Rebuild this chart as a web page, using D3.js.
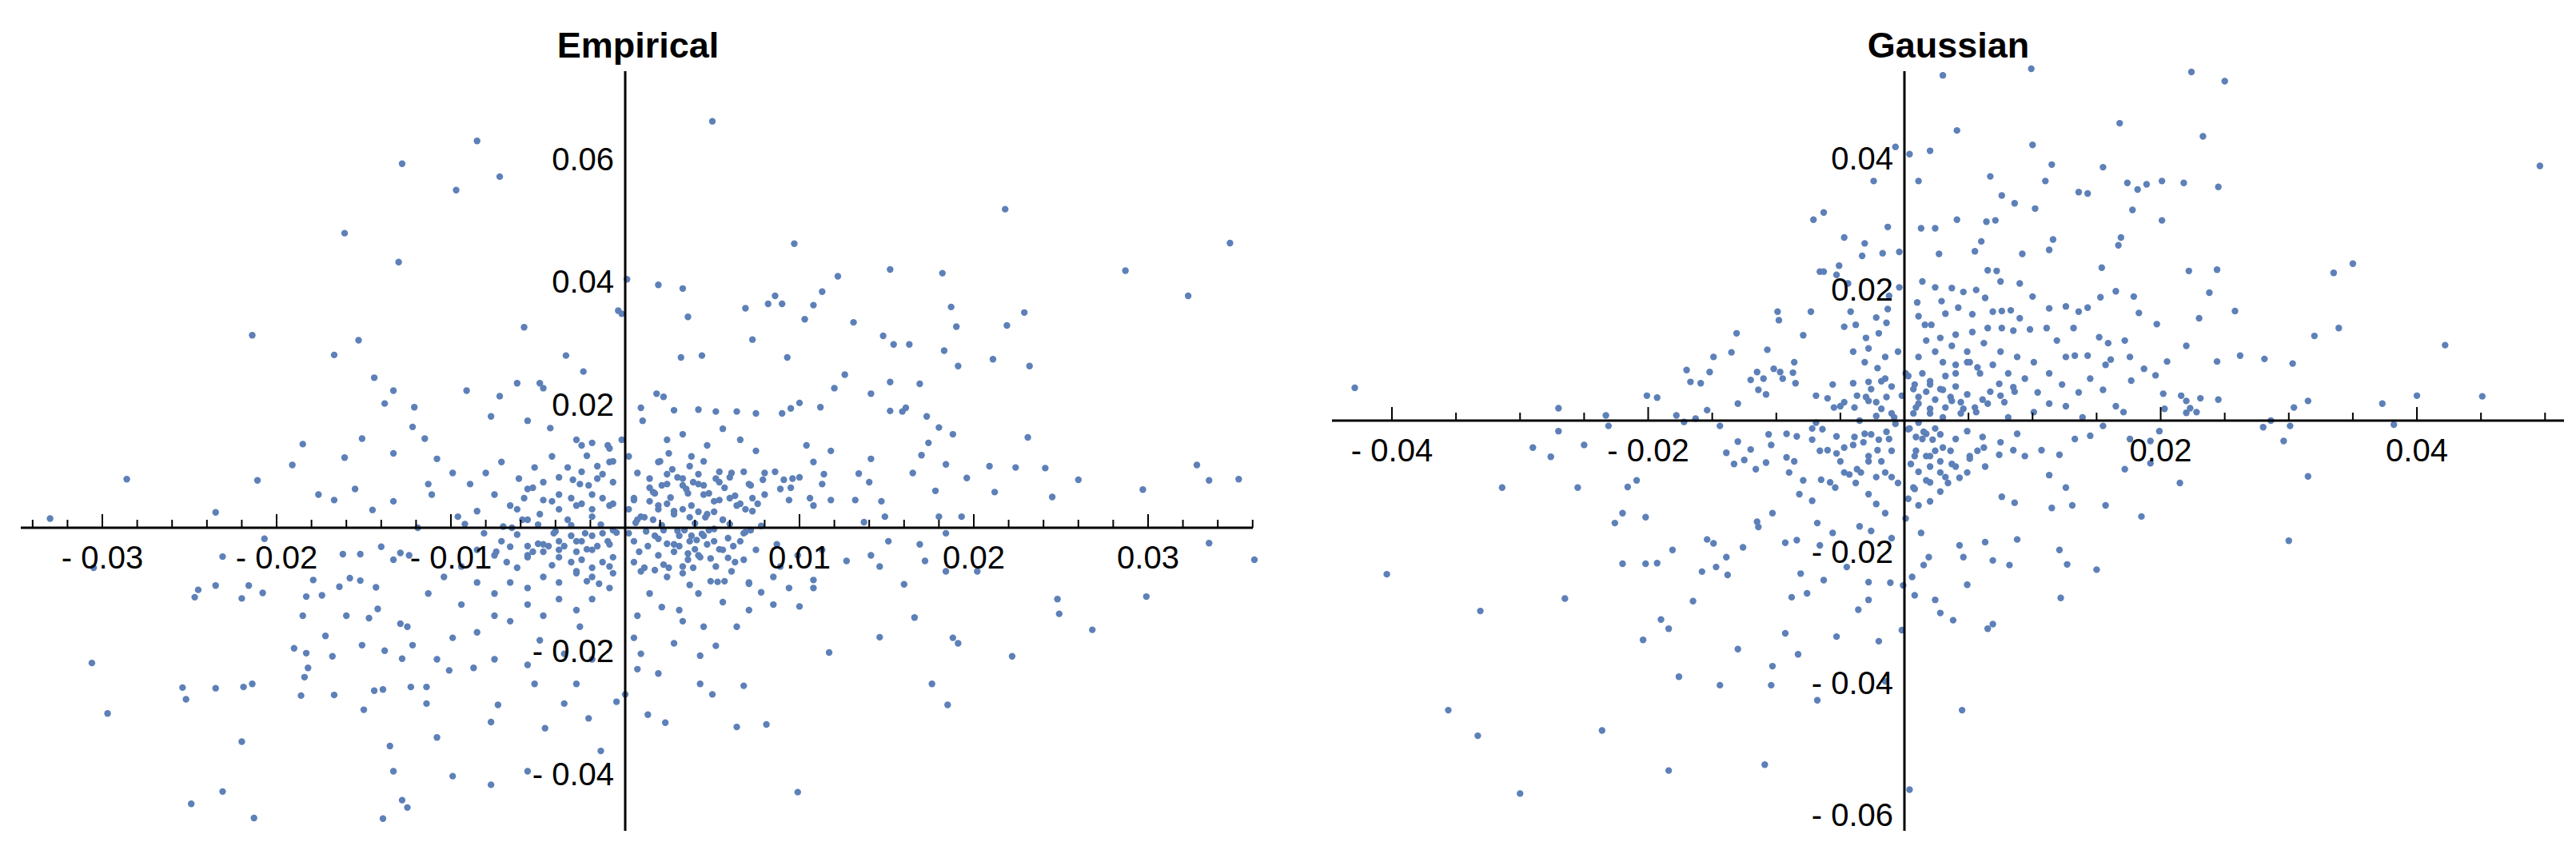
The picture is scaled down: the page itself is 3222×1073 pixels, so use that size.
<!DOCTYPE html>
<html>
<head>
<meta charset="utf-8">
<script src="https://cdn.jsdelivr.net/npm/d3@7"></script>
<style>
  html, body { margin: 0; padding: 0; background: #fff; }
  text { font-family: "Liberation Sans", Arial, sans-serif; }
</style>
</head>
<body>
<svg id="chart" width="3222" height="1073"></svg>
<script>
// values in units of 0.001
const unit = 0.001;

const empiricalPoints = [
[5.0,66.1],[-8.5,62.9],[-12.8,59.2],[-7.2,57.1],[-9.7,54.9],[-16.1,47.9],[-13.0,43.2],[9.7,46.2],[21.8,51.8],[34.7,46.3],
[28.7,41.8],[32.3,37.7],[15.2,42.0],[18.2,41.4],[12.2,40.9],[0.1,40.4],[1.9,39.5],[3.3,38.9],[8.6,37.7],[8.2,36.4],
[9.0,36.4],[6.9,35.7],[10.8,36.2],[11.3,38.4],[10.3,33.9],[18.7,35.9],[22.9,35.0],[-0.4,35.3],[-0.2,34.8],[3.6,34.3],
[13.1,33.4],[19.0,32.7],[21.9,32.9],[-5.8,32.6],[-21.4,31.3],[-15.3,30.5],[-16.7,28.1],[7.3,30.6],[14.8,31.2],[15.4,29.8],
[16.3,29.8],[18.3,28.8],[21.1,27.4],[23.2,26.3],[19.1,26.3],[-3.4,28.0],[-2.4,25.4],[9.3,27.7],[4.4,28.0],[3.2,27.7],
[-14.4,24.4],[-13.3,22.3],[-13.8,20.2],[-12.1,19.6],[-9.1,22.3],[-28.6,7.9],[-21.1,7.7],[-18.5,13.6],[-19.1,10.2],[-23.5,2.5],
[-33.0,1.5],[35.2,7.9],[32.8,10.2],[33.5,7.7],[29.7,6.2],[26.0,7.8],[24.5,5.0],[23.1,14.7],[24.1,9.7],[36.1,-5.2],
[33.5,-2.5],[29.9,-11.2],[24.8,-11.6],[24.9,-14.0],[26.8,-16.6],[22.2,-20.9],[19.1,-18.8],[18.8,-17.9],[17.6,-25.4],[18.5,-28.8],
[14.6,-17.8],[16.6,-14.6],[16.0,-9.2],[11.7,-20.3],[9.9,-43.0],[8.1,-32.0],[6.4,-32.4],[6.8,-25.7],[5.0,-27.1],[4.3,-25.4],
[2.3,-31.7],[1.3,-30.4],[-1.4,-36.3],[-2.1,-31.0],[-0.5,-28.3],[0,-27.1],[-3.5,-28.6],[-4.6,-32.6],[-5.6,-39.6],[-7.7,-41.8],
[-9.9,-40.4],[-10.8,-34.1],[-7.3,-28.8],[-7.7,-31.6],[-13.9,-47.3],[-12.5,-45.5],[-12.8,-44.3],[-13.3,-39.6],[-13.5,-35.5],[-15.0,-29.6],
[-21.3,-47.2],[-23.1,-42.9],[-24.9,-44.9],[-22.0,-34.8],[-29.7,-30.2],[-30.6,-22.0],[-25.4,-26.0],[-25.2,-27.9],[-23.5,-26.1],[-21.9,-25.9],
[-21.4,-25.4],[-18.6,-27.3],[-16.7,-27.2],[-19.0,-19.6],[-18.3,-20.4],[-18.2,-22.8],[-18.4,-24.3],[-16.8,-20.9],[-17.2,-17.6],[-15.1,-19.1],
[-13.8,-20.0],[-14.4,-26.5],[-13.9,-26.3],[-12.3,-25.9],[-11.4,-25.9],[-11.4,-28.6],[-12.8,-21.3],[-12.2,-19.1],[-12.9,-15.6],[-12.5,-16.1],
[-14.7,-14.7],[-16.0,-14.3],[-18.5,-14.3],[-18.3,-11.2],[-17.4,-11.0],[-16.4,-9.6],[-15.8,-8.2],[-15.2,-8.6],[-14.3,-9.7],[-14.2,-13.2],
[-20.8,-10.6],[-21.6,-9.4],[-22.0,-11.5],[-23.5,-9.4],[-24.5,-10.1],[-24.7,-11.3],[-17.9,-8.5],[-20.7,-1.8],[-23.1,-4.7],[-30.5,-6.5],
[-15.2,-4.3],[-16.2,-4.3],[-14.0,-3.1],[-13.3,-5.2],[-12.9,-4.1],[-12.4,-4.5],[-11.9,0],
[-7.7,18.1],[-7.2,21.4],[-6.2,23.5],[-4.9,23.5],[-4.7,22.7],[-5.6,17.4],[-4.3,16.2],[-2.8,14.3],[-1.9,13.8],[-0.9,12.9],
[0.9,19.5],[1.0,17.4],[1.8,21.8],[2.2,21.3],[2.8,19.1],[4.2,19.2],[5.2,18.9],[6.4,18.9],[7.5,18.6],[9.0,18.6],
[10.0,20.3],[9.5,19.4],[11.2,19.6],[12.0,22.7],[12.6,24.9],[14.1,21.8],[15.2,23.7],[15.2,19.0],[15.9,18.9],[16.9,23.4],
[16.1,19.5],[17.3,18.1],[18.0,16.3],[17.4,13.8],[18.8,15.2],[17.0,11.8],[18.4,10.3],[16.5,8.9],[17.8,6.0],[19.6,8.1],
[20.9,10.0],[21.2,5.8],[22.4,9.8],[19.3,1.8],[18.0,1.8],
[14.1,11.2],[13.4,8.8],[14.0,7.4],[13.2,4.5],[14.7,4.3],[14.9,1.8],[13.7,0.9],[11.3,7.1],[10.8,10.7],[11.8,12.5],
[10.4,13.4],[9.6,8.0],[8.9,6.3],[8.0,8.9],[7.5,12.5],[6.6,14.3],[5.6,16.1],[4.7,13.4],[3.8,11.6],[3.3,15.2],
[2.4,14.3],[1.9,10.7],[1.4,8.0],[2.4,7.1],[3.3,8.0],[4.2,7.1],[5.2,8.0],[6.1,8.9],[7.1,7.1],[8.0,5.4],
[9.4,4.5],[10.8,3.6],[11.8,4.5],[1.6,5.8],[2.6,4.9],[3.5,6.3],[4.5,5.4],[5.4,4.5],[6.4,3.6],[7.3,2.7],
[1.9,3.6],[2.8,2.7],[3.8,3.6],[4.7,2.2],[5.6,1.3],[0.9,1.8],[0.5,4.5],[0.7,8.9],[0.2,11.6],[-0.2,14.3],
[-0.9,10.7],[-1.6,8.0],[-2.6,7.1],[-3.3,9.8],[-4.2,11.6],[-5.2,9.8],[-6.1,8.0],[-7.1,10.7],[-8.0,8.9],[-8.9,7.1],
[-9.9,8.9],[-10.8,11.2],[-11.3,7.1],[-11.1,5.4],[-7.5,5.4],[-6.6,3.6],[-5.6,6.3],[-4.7,4.5],[-3.8,5.4],[-2.8,3.6],
[-1.9,5.4],[-0.9,3.6],[-4.9,2.2],[-5.9,1.3],[-3.3,1.3],[-1.9,1.8],[-8.5,2.7],[-9.6,1.8],[-13.3,4.3],[-14.5,2.9],
[-15.5,6.3],[-16.7,4.5],[-17.6,5.4],[-16.1,11.4],[-15.1,14.5],[-13.3,12.1],[-12.2,16.4],[-11.5,14.5],
[1.9,-1.8],[2.8,-2.7],[3.8,-1.3],[4.7,-2.7],[5.6,-3.6],[6.6,-2.2],[7.5,-3.6],[8.7,-2.7],[9.9,-4.5],[11.3,-3.6],
[12.7,-5.4],[14.1,-4.5],[15.1,-2.2],[16.9,-2.7],[18.4,-0.9],[20.2,-7.1],[18.4,-7.1],[17.2,-5.4],[1.9,-4.5],[0.9,-7.1],
[2.4,-8.0],[3.3,-6.3],[4.2,-4.5],[5.2,-6.3],[6.1,-7.1],[7.1,-8.9],[8.5,-8.0],[9.4,-9.8],[10.8,-8.5],[10.8,-9.8],
[10.0,-12.8],[8.5,-12.5],[7.1,-13.4],[5.6,-12.1],[4.2,-10.7],[3.1,-13.4],[2.1,-12.9],[1.4,-10.7],[0.7,-14.3],[2.8,-18.8],
[4.5,-16.1],[5.2,-19.2],[6.4,-16.1],[4.3,-20.8],[0.9,-20.5],[0.5,-17.9],[1.9,-23.7],[0.7,-23.0],[3.3,-15.2],[8.9,-6.3],[14.6,-6.3],
[-0.9,-2.7],[-1.9,-3.6],[-2.8,-2.2],[-3.8,-3.6],[-4.7,-2.7],[-5.6,-4.5],[-6.6,-3.1],[-7.5,-4.5],[-8.5,-3.6],[-9.4,-6.3],
[-10.4,-8.0],[-11.3,-10.7],[-0.9,-6.3],[-1.9,-8.0],[-2.8,-7.1],[-3.8,-8.9],[-4.7,-8.0],[-5.6,-9.8],[-6.6,-8.9],[-7.5,-10.7],
[-8.5,-8.9],[-9.4,-12.5],[-0.9,-9.8],[-1.9,-11.6],[-2.8,-13.4],[-3.8,-11.6],[-4.7,-14.3],[-5.6,-12.5],[-6.6,-15.2],[-7.5,-14.3],
[-8.5,-17.0],[-9.9,-17.9],[-10.8,-21.4],[-10.1,-23.2],[-8.7,-22.8],[-7.5,-21.4],[-5.6,-22.3],[-4.9,-18.3],[-3.5,-20.5],[-2.6,-16.1],
[-1.9,-21.4],[-5.2,-25.4],[-2.8,-25.4],
[0.6,0.8],[1.2,-0.6],[2.1,0.4],[3.0,-0.5],[4.0,0.7],[4.4,-1.0],[5.1,-0.2],[6.0,0.6],[6.9,-0.7],[7.8,0.3],
[-0.5,-0.8],[-1.4,0.5],[-2.3,-0.9],[-3.1,0.4],[-4.0,-0.6],[-5.0,0.5],[-6.2,-1.1],[-7.0,0.2],[-8.1,-0.9],[-9.2,0.6],
[3.6,-4.2],[4.9,-5.0],[5.9,-4.9],[3.1,-3.0],[4.1,-2.0],[2.2,-6.0],[6.8,-5.2],[5.3,-8.8],[7.8,-10.5],[3.7,-9.3],
[1.4,6.5],[1.7,5.6],[2.1,6.9],[2.4,8.7],[2.7,9.5],[3.0,8.2],[3.3,6.9],[3.6,5.6],[3.9,7.4],[4.2,8.7],
[4.5,6.9],[4.8,5.6],[5.1,4.3],[5.4,7.4],[5.7,6.5],[6.0,4.8],[6.3,5.2],[6.6,3.9],[6.9,3.0],[7.3,4.8],
[7.6,3.9],[1.4,4.3],[1.9,3.0],[2.4,3.9],[2.8,2.2],[3.3,3.0],[3.7,1.7],[4.2,2.6],[4.6,1.7],[5.1,2.6],
[5.6,1.3],[0.2,3.0],[0.5,4.8],[0.7,1.3],[1.1,1.7],[1.6,1.3],[2.0,10.8],[2.5,12.1],[3.7,10.0],[4.5,10.8],
[5.4,9.1],[6.0,8.2],[6.8,9.1],[7.2,6.9],[7.9,7.8],[8.6,9.1],[9.1,7.8],[9.5,6.5],[10.0,8.2],[10.6,4.8],[11.4,8.7],
[0.2,-0.9],[0.5,-2.2],[0.8,-3.9],[1.3,-3.0],[1.7,-1.3],[2.2,-0.4],[2.4,-2.6],[2.8,-3.9],[3.1,-1.3],[3.4,-0.4],
[3.7,-2.2],[4.0,-3.5],[4.3,-4.8],[4.5,-1.3],[4.8,-0.4],[5.1,-2.2],[5.4,-3.5],[3.6,-5.2],[3.9,-6.5],[3.3,-7.4],
[2.5,-6.5],[1.7,-6.9],[1.1,-6.5],[0.5,-5.6],[5.9,-1.7],[6.2,-3.0],[6.8,-0.9],[7.2,-0.4],[6.3,-5.6],[4.9,-8.7],
[5.7,-8.7],[7.1,-9.1],
[-0.7,-0.4],[-1.0,-2.2],[-1.3,-0.9],[-1.6,-3.0],[-1.9,-1.3],[-2.2,-3.5],[-2.5,-2.2],[-2.8,-3.9],[-3.1,-1.3],[-3.5,-3.0],
[-3.8,-2.2],[-4.1,-0.9],[-4.4,-3.0],[-4.7,-3.9],[-5.0,-2.6],[-5.3,-3.9],[-5.6,-3.0],[-0.7,-4.8],[-1.3,-5.6],[-1.9,-6.5],
[-2.5,-5.2],[-3.1,-5.6],[-3.8,-4.8],[-4.2,-6.1],[-0.7,-7.4],[-1.5,-9.1],[-2.2,-8.7],[-2.8,-7.4],[-0.7,3.9],[-1.3,4.8],
[-1.9,3.0],[-2.5,3.9],[-3.1,4.8],[-3.8,3.0],[-4.2,4.3],[-0.7,7.4],[-1.3,8.7],[-2.1,6.9],[-2.5,9.1],[-3.0,7.8],
[-3.8,8.2],[-0.7,10.8],[-1.6,10.0],[-2.2,11.7],[-2.5,13.4],[-1.0,13.4],[-4.7,7.4],[-5.3,6.5],[-5.8,4.8],[-6.2,3.0],
[-5.6,1.3],[-6.5,0],[-7.1,-2.2],[-7.4,-3.9],[-6.8,-5.6],[-6.2,-6.5],[-5.6,-4.8]
];

const gaussianPoints = [
[3.0,52.6],[9.9,53.6],[22.4,53.1],[25.0,51.7],[16.8,45.3],[4.1,44.2],[23.3,43.3],[10.0,42.0],[2.0,41.1],[-0.7,41.7],
[0.4,40.6],[49.6,38.8],[11.5,39.0],[15.5,38.6],[17.4,36.2],[20.1,36.5],[21.8,36.2],[24.5,35.6],[18.2,35.2],[18.9,36.0],
[-2.4,36.5],[1.1,36.5],[6.7,37.2],[11.0,36.5],[13.6,34.8],[14.3,34.6],[7.6,34.3],[8.6,33.1],[10.2,32.3],[17.8,32.1],
[20.1,30.5],[-7.1,30.6],[-6.3,31.7],[4.1,30.6],[1.3,29.3],[2.4,29.3],[-1.3,29.5],[6.4,30.3],[7.1,30.5],[-4.7,27.9],
[-3.1,27.0],[6.0,27.3],[11.6,27.6],[16.9,27.9],[16.7,26.7],[11.3,26.0],[9.2,25.4],[-1.7,25.5],[-0.4,25.7],[-3.3,25.1],
[2.7,25.4],[5.5,25.8],[15.4,23.3],[35.0,23.9],[33.5,22.5],[24.4,23.0],[22.2,22.8],[23.8,19.5],[-6.3,22.7],[-5.1,23.6],
[25.8,16.7],[23.0,15.6],[32.0,12.9],[33.9,14.1],[42.2,11.5],[26.2,9.9],[28.1,9.4],[30.3,8.7],[22.0,11.4],[40.0,3.8],
[45.1,3.7],[37.3,2.6],[31.5,3.0],[30.4,2.0],[38.2,-0.6],[28.6,0],[30.1,-0.8],[29.6,-3.1],[28.0,-1.0],[31.5,-8.5],
[30.0,-18.3],[21.5,-9.5],[18.5,-14.6],[15.0,-22.7],[12.2,-27.0],[12.7,-21.9],[12.1,-19.7],[8.8,-18.1],[8.2,-22.0],[6.9,-21.3],
[6.9,-31.0],[6.5,-31.7],[4.5,-44.1],[4.9,-25.0],[3.8,-30.4],[2.8,-29.3],[2.4,-27.3],[0.4,-56.2],[-0.2,-31.9],[-1.5,-39.7],
[-2.0,-33.6],[-3.6,-28.8],[-2.8,-27.3],[-6.8,-42.6],[-5.3,-32.9],[-8.3,-35.6],[-10.4,-40.3],[-10.3,-37.4],[-9.3,-32.4],[-10.9,-52.4],
[-13.0,-34.8],[-14.4,-40.3],[-17.6,-39.0],[-18.4,-53.3],[-18.4,-31.7],[-19.0,-30.3],[-20.4,-33.4],[-16.5,-27.5],[-23.6,-47.2],[-30.0,-56.8],
[-33.3,-48.0],[-35.6,-44.1],[-33.1,-29.0],[-26.5,-27.1],[-40.4,-23.4],[-31.4,-10.2],[-25.5,-10.2],[-27.6,-5.5],[-29.0,-4.1],[-25.0,-3.7],
[-27.0,-1.6],[-42.9,5.0],[-27.0,1.9],[-23.3,0.8],[-23.1,-0.8],[-20.1,3.8],[-19.3,3.5],[-22.0,-21.8],[-20.2,-21.8],[-19.3,-21.7],
[-22.6,-15.6],[-22.0,-14.1],[-20.9,-9.1],[-21.6,-10.1],[-20.2,-14.7],[-18.1,-19.7],[-15.8,-23.0],[-14.7,-22.3],[-13.8,-23.5],[-15.4,-18.1],
[-14.9,-18.7],[-13.9,-20.8],[-12.6,-19.3],[-11.5,-15.4],[-11.4,-16.2],[-10.3,-14.1],[-9.3,-18.6],[-8.4,-18.2],[-8.8,-26.9],[-7.6,-26.3],
[-8.1,-23.3],[-6.3,-24.3],[-6.6,-19.0],[-6.8,-15.6],[-5.6,-17.1],[-4.5,-22.3],[-2.8,-24.6],[-1.1,-24.7],[-0.1,-25.1],[0.8,-26.6],
[0.6,-23.8],[1.5,-22.0],[1.9,-20.8],[1.3,-17.1],[4.3,-19.0],[4.6,-20.8],[6.3,-18.5],[7.6,-11.6],[8.6,-12.5],[11.5,-13.3],
[13.1,-12.9],[15.7,-12.9],[12.6,-10.2],[11.3,-8.3],[17.2,-7.4],[19.2,-6.5],[17.6,-2.8],[19.2,-3.1],[19.9,-1.6],[22.0,3.0],
[23.1,3.4],[24.5,3.2],[21.6,3.8],[20.2,4.1],[20.3,1.8],[22.8,1.3],[22.0,1.2],[22.3,1.9],[24.4,9.0],[20.5,9.0],
[19.6,6.9],[18.7,7.9],[17.7,6.1],[19.7,14.7],[18.3,16.4],[17.9,18.9],[16.5,19.7],[15.3,18.8],[14.3,17.2],[13.6,16.6],
[13.2,14.1],[15.2,12.7],[15.9,11.8],[17.2,12.2],[17.6,9.7],[16.1,9.3],[15.7,8.5],[14.3,9.9],[12.6,9.7],[13.3,9.9],
[11.9,12.2],[11.1,14.1],[11.3,17.1],[12.6,17.4],[10.0,18.9],[9.0,20.9],[7.5,21.2],[6.5,22.9],[7.2,22.8],[5.6,19.9],
[6.3,18.7],[4.6,19.6],[3.7,20.2],[2.4,20.3],[1.4,21.2],[1.0,18.0],[1.1,15.9],[1.6,14.6],[2.1,14.6],[2.9,18.2],
[3.2,16.3],[4.2,17.2],[5.3,16.2],[6.9,16.6],[7.6,16.7],[8.3,16.8],[9.0,15.6],[9.8,13.9],[8.5,13.7],[7.6,14.1],
[6.5,14.1],[5.3,13.5],[4.0,13.1],[2.8,12.6],[1.7,12.2],[-1.3,17.0],[-1.4,14.9],[-2.2,15.7],[-2.0,13.3],[-3.0,12.6],
[-3.8,14.6],[-4.7,14.3],[-4.2,16.6],[-1.2,19.0],[-0.4,20.3],[-4.4,20.9],[-5.3,22.2],[-6.6,22.7],[-7.3,16.6],[-9.9,16.6],
[-9.8,15.3],[-7.9,13.0],[-13.1,13.3],[-13.5,10.4],[-10.7,10.8],[-8.6,8.9],[-10.2,7.9],[-11.5,7.4],[-12.0,6.2],[-11.0,6.4],
[-9.7,7.4],[-8.7,7.3],[-9.5,6.4],[-8.5,5.7],[-11.4,4.7],[-10.8,4.0],[-13.0,2.6],[-14.9,9.7],[-15.2,7.4],[-17.0,7.7],
[-16.7,5.9],[-15.9,5.7],[-15.4,1.6],[-17.8,0.8],[-17.2,-0.2],[-16.3,0.3],[-14.4,-0.8],[-13.0,-3.2],[-12.0,-4.4],[-13.9,-4.9],
[-13.3,-6.6],[-12.5,-6.0],[-11.6,-7.4],[-10.8,-6.4],[-10.4,-3.7],[-10.6,-2.1],[-9.2,-2.0],[-8.4,-2.4],[-7.2,-1.2],[-6.9,-0.3],
[-9.2,-5.6],[-8.6,-6.2],[-9.0,-7.9],[-7.9,-9.1],[-8.2,-11.2],[-7.2,-12.2],[-6.5,-9.0],[-5.8,-9.4],[-5.4,-10.2],[-4.7,-7.9],
[-3.4,-7.9],[-3.8,-9.5],[-2.8,-11.2],[-2.2,-12.7],[-1.5,-14.1],[-3.5,-16.1],[-2.6,-16.8],[-1.0,-17.9],[0.1,-14.9],[1.1,-12.9],
[2.0,-12.3],[2.8,-10.8],[3.4,-9.5],[4.3,-8.7],[4.9,-7.9],[6.3,-7.0],[7.4,-5.2],[8.5,-4.5],[9.4,-5.4],[10.7,-4.5],
[12.1,-5.2],[13.3,-2.8],[14.5,-2.3],[15.5,-0.8],[8.8,-2.0],[7.5,-3.3],[6.2,-4.1],[5.1,-5.4],[3.7,-6.6],[2.8,-7.9],
[1.7,-9.1],[0.8,-10.4],[2.0,-5.4],[3.0,-4.1],[4.0,-2.8],[4.9,-1.6],[1.4,-2.8],[2.4,-1.2],[0.8,-5.4],[-1.2,-2.8],
[-2.1,-4.5],[-3.1,-2.0],[-4.0,-3.7],[-5.3,-2.4],[-6.0,-4.5],[-5.0,-6.2],[-2.8,-6.2],[-1.5,-7.9],[-0.5,-9.5],[-0.8,0.5],
[-1.8,1.8],[-2.8,3.0],[-3.7,3.8],[-5.0,2.2],[-6.0,3.4],[-6.9,3.8],[-5.6,5.5],[-4.0,5.7],[-2.8,5.9],[-1.5,6.4],
[-2.1,8.0],[-3.1,8.9],[-4.0,10.5],[-2.8,11.0],[-1.5,9.7],[-0.5,10.5],[1.1,9.7],[1.4,7.2],[2.0,5.5],[3.0,4.7],
[3.7,3.0],[4.6,1.8],[5.6,1.3],[6.5,2.6],[7.5,3.8],[8.5,5.1],[9.4,6.4],[10.4,4.3],[11.3,2.6],[12.6,2.2],
[13.6,4.3],[14.5,6.4],[15.5,4.7],[16.5,2.2],[17.1,1.3],[13.9,0.5],[10.1,1.3],[8.1,0.5],[6.9,8.5],[5.9,7.2],
[4.9,8.9],[4.0,7.2],[3.0,8.9],[2.4,10.5],[3.7,11.4],[4.9,10.5],[6.2,11.8],[7.5,10.5],[8.8,9.7],[10.1,8.9],
[11.3,7.2],[12.3,5.5],[8.1,7.2],[1.1,2.6],[2.0,1.8],[3.0,0.5],[1.1,-0.3],[1.7,-2.0],[0.4,-1.2],[-0.2,3.8],
[0.8,5.5],[0.1,7.2],
[0.7,4.8],[1.1,3.6],[1.7,4.4],[2.4,3.2],[2.8,4.8],[3.2,2.0],[3.6,3.6],[4.0,5.2],[4.4,2.8],[4.9,4.0],
[5.5,2.0],[6.1,3.2],[6.7,4.4],[7.4,5.6],[0.3,6.8],[0.9,2.0],[2.0,6.0],[3.2,6.8],[4.0,8.5],[5.1,8.9],
[5.7,8.1],[0.7,1.1],[2.0,1.1],[4.4,1.1],[7.8,2.8],[8.6,4.4],
[0.3,-1.3],[0.9,-2.5],[1.5,-1.7],[2.2,-2.9],[2.8,-2.1],[2.4,-4.6],[1.7,-5.4],[0.9,-4.6],[0.5,-6.6],[1.1,-7.8],
[2.0,-7.0],[2.8,-6.2],[3.6,-4.6],[4.0,-7.0],[3.2,-8.6],[2.0,-9.4],[0.7,-10.2],[0.3,-11.9],[5.1,-5.8],[5.7,-4.6],[6.1,-2.5],
[-0.7,-0.5],[-1.4,-1.7],[-2.0,-2.9],[-2.6,-2.1],[-3.2,-3.3],[-3.9,-2.5],[-4.7,-4.1],[-5.3,-5.0],[-1.0,-4.6],[-1.8,-6.2],
[-2.8,-5.4],[-3.7,-7.4],[-4.3,-8.2],[-1.0,-8.6],[-2.2,-8.6],[-1.4,3.6],[-2.2,2.8],[-3.0,3.6],[-3.9,2.0],[-4.7,2.8],
[-5.5,2.0],[-1.0,5.2],[-1.8,6.0],[-2.6,4.8],[-1.0,1.1],[-2.2,0.7],[-3.5,0],[-6.4,-1.3],[-7.2,-2.9],[-6.6,-4.6]
];

const empiricalXTicks = [-0.03, -0.02, -0.01, 0.01, 0.02, 0.03];
const empiricalYTicks = [-0.04, -0.02, 0.02, 0.04, 0.06];
const gaussianXTicks = [-0.04, -0.02, 0.02, 0.04];
const gaussianYTicks = [-0.06, -0.04, -0.02, 0.02, 0.04];

const svg = d3.select("#chart");
const dotColor = "#5d80b8";

const fmt = v => {
  const s = d3.format(".2f")(Math.abs(v));
  return v < 0 ? "- " + s : s;
};

function panel(o) {
  const x = d3.scaleLinear().domain(o.xDomain).range(o.xRange);
  const y = d3.scaleLinear().domain(o.yDomain).range(o.yRange);
  const g = svg.append("g");

  g.selectAll("circle")
    .data(o.points)
    .join("circle")
    .attr("cx", d => x(d[0] * unit))
    .attr("cy", d => y(d[1] * unit))
    .attr("r", 4.2)
    .attr("fill", dotColor);

  const x0 = x(0), y0 = y(0);
  g.append("line").attr("x1", o.xRange[0]).attr("x2", o.xRange[1])
    .attr("y1", y0).attr("y2", y0).attr("stroke", "#000").attr("stroke-width", 3);
  g.append("line").attr("y1", o.yRange[0]).attr("y2", o.yRange[1])
    .attr("x1", x0).attr("x2", x0).attr("stroke", "#000").attr("stroke-width", 3);

  const xs = d3.range(Math.ceil(o.xDomain[0] / o.xMinor), Math.floor(o.xDomain[1] / o.xMinor) + 1)
    .map(i => i * o.xMinor).filter(v => Math.abs(v) > 1e-9);
  g.selectAll(".xt").data(xs).join("line")
    .attr("x1", d => x(d)).attr("x2", d => x(d))
    .attr("y1", y0)
    .attr("y2", d => y0 - (o.xTicks.some(t => Math.abs(t - d) < 1e-9) ? 17 : 10))
    .attr("stroke", "#000").attr("stroke-width", 2);

  const ys = d3.range(Math.ceil(o.yDomain[1] / o.yMinor), Math.floor(o.yDomain[0] / o.yMinor) + 1)
    .map(i => i * o.yMinor).filter(v => Math.abs(v) > 1e-9);
  g.selectAll(".yt").data(ys).join("line")
    .attr("y1", d => y(d)).attr("y2", d => y(d))
    .attr("x1", x0)
    .attr("x2", d => x0 + (o.yTicks.some(t => Math.abs(t - d) < 1e-9) ? 17 : 10))
    .attr("stroke", "#000").attr("stroke-width", 2);

  g.selectAll(".xl").data(o.xTicks).join("text")
    .attr("x", d => x(d)).attr("y", y0 + 51)
    .attr("text-anchor", "middle").attr("font-size", 40)
    .text(fmt);

  g.selectAll(".yl").data(o.yTicks).join("text")
    .attr("x", x0 - 14).attr("y", d => y(d) + 14)
    .attr("text-anchor", "end").attr("font-size", 40)
    .text(fmt);

  g.append("text").attr("x", o.titleX).attr("y", 72)
    .attr("text-anchor", "middle").attr("font-size", 45).attr("font-weight", "bold")
    .text(o.title);
}

panel({
  title: "Empirical", titleX: 798, points: empiricalPoints,
  xDomain: [-0.03468, 0.03601], xRange: [26, 1567],
  yDomain: [-0.04929, 0.07425], yRange: [1039, 89],
  xTicks: empiricalXTicks, yTicks: empiricalYTicks, xMinor: 0.002, yMinor: 0.005
});

panel({
  title: "Gaussian", titleX: 2437, points: gaussianPoints,
  xDomain: [-0.04468, 0.05148], xRange: [1666, 3207],
  yDomain: [-0.06248, 0.05323], yRange: [1039, 89],
  xTicks: gaussianXTicks, yTicks: gaussianYTicks, xMinor: 0.005, yMinor: 0.005
});
</script>
</body>
</html>
